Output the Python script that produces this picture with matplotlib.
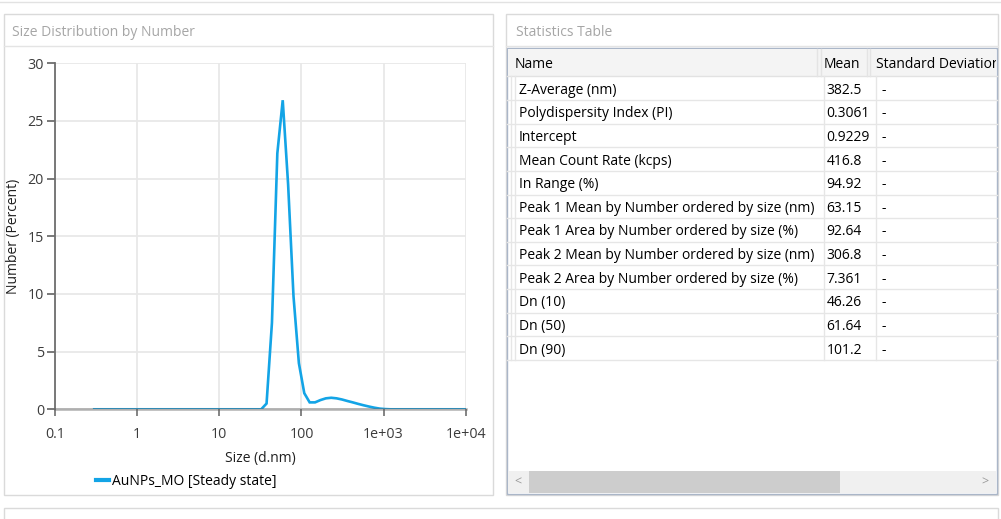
### Size distribution by number + statistics table (DLS report page)
import matplotlib
matplotlib.use('Agg')
import matplotlib.pyplot as plt
from matplotlib.patches import Rectangle
from matplotlib.lines import Line2D
from matplotlib.transforms import Bbox, TransformedBbox
import numpy as np

plt.rcParams['font.family'] = ['Open Sans', 'DejaVu Sans']

# size classes (d.nm)
sizes = [
    0.300, 0.349, 0.406, 0.472, 0.549, 0.638, 0.742, 0.863, 1.004, 1.168,
    1.358, 1.579, 1.837, 2.136, 2.484, 2.889, 3.360, 3.908, 4.545, 5.286,
    6.147, 7.149, 8.315, 9.670, 11.25, 13.08, 15.21, 17.69, 20.57, 23.93,
    27.83, 32.36, 37.64, 43.77, 50.91, 59.21, 68.86, 80.08, 93.13, 108.3,
    126.0, 146.5, 170.4, 198.2, 230.5, 268.1, 311.8, 362.6, 421.7, 490.4,
    570.4, 663.3, 771.5, 897.2, 1043, 1214, 1411, 1641, 1909, 2220,
    2582, 3003, 3492, 4061, 4723, 5493, 6389, 7430, 8641, 10000]

# number distribution (percent)
number_pct = [
    0, 0, 0, 0, 0, 0, 0, 0, 0, 0,
    0, 0, 0, 0, 0, 0, 0, 0, 0, 0,
    0, 0, 0, 0, 0, 0, 0, 0, 0, 0,
    0, 0, 0.5, 7.5, 22.2, 26.8, 19.5, 9.8, 4.0, 1.4,
    0.6, 0.6, 0.8, 0.95, 1.0, 0.95, 0.85, 0.72, 0.6, 0.47,
    0.35, 0.24, 0.14, 0.06, 0.02, 0, 0, 0, 0, 0,
    0, 0, 0, 0, 0, 0, 0, 0, 0, 0]

series_name = 'AuNPs_MO [Steady state]'

stat_names = [
    'Z-Average (nm)',
    'Polydispersity Index (PI)',
    'Intercept',
    'Mean Count Rate (kcps)',
    'In Range (%)',
    'Peak 1 Mean by Number ordered by size (nm)',
    'Peak 1 Area by Number ordered by size (%)',
    'Peak 2 Mean by Number ordered by size (nm)',
    'Peak 2 Area by Number ordered by size (%)',
    'Dn (10)',
    'Dn (50)',
    'Dn (90)',
]
stat_means = ['382.5', '0.3061', '0.9229', '416.8', '94.92', '63.15',
              '92.64', '306.8', '7.361', '46.26', '61.64', '101.2']
stat_sd = ['-'] * len(stat_names)

FS = 10
W, H = 1001, 519
fig = plt.figure(figsize=(W / 100, H / 100), dpi=100)


def fx(px):
    return px / W


def fy(py):
    return 1 - py / H


def box(x0, y0, x1, y1, ec, fc='none', lw=1.0, z=0):
    fig.add_artist(Rectangle((fx(x0), fy(y1)), (x1 - x0) / W, (y1 - y0) / H,
                             transform=fig.transFigure, ec=ec, fc=fc, lw=lw, zorder=z))


def hline(y, x0, x1, c, lw=1.0, z=1):
    fig.add_artist(Line2D([fx(x0), fx(x1)], [fy(y), fy(y)], transform=fig.transFigure,
                          color=c, lw=lw, zorder=z))


def vline(x, y0, y1, c, lw=1.0, z=1):
    fig.add_artist(Line2D([fx(x), fx(x)], [fy(y0), fy(y1)], transform=fig.transFigure,
                          color=c, lw=lw, zorder=z))


# panel frames
hline(1.5, 0, W, '#e2e2e2')
box(4, 13.5, 492.5, 495, '#dadada')
hline(45.7, 4, 492.5, '#e4e4e4')
box(505.5, 13.5, 997.5, 495, '#dadada')
hline(45.7, 505.5, 997.5, '#e4e4e4')
box(4, 507.5, 997.5, 540, '#dadada')

fig.text(fx(12), fy(33), 'Size Distribution by Number', color='#a6a6a6',
         fontsize=FS, va='center', ha='left')
fig.text(fx(516), fy(33), 'Statistics Table', color='#a6a6a6',
         fontsize=FS, va='center', ha='left')

# ---- distribution plot ----
ax = fig.add_axes([fx(55), fy(409.3), fx(465.7) - fx(55), fy(63.3) - fy(409.3)])
ax.plot(sizes, number_pct, color='#13a4e6', lw=1.9, solid_joinstyle='miter',
        label=series_name, zorder=2)
ax.set_xscale('log')
ax.set_xlim(0.1, 1e4)
ax.set_ylim(0, 30)
ax.set_xticks([0.1, 1, 10, 100, 1000, 10000])
ax.set_xticklabels(['0.1', '1', '10', '100', '1e+03', '1e+04'])
ax.xaxis.set_minor_locator(matplotlib.ticker.NullLocator())
ax.set_yticks(range(0, 31, 5))
ax.grid(True, color='#e8e8e8', lw=1.3)
ax.set_axisbelow(True)
for s in ('top', 'right'):
    ax.spines[s].set_visible(False)
ax.spines['left'].set_color('#6e6e6e')
ax.spines['left'].set_linewidth(1.3)
ax.spines['bottom'].set_color((0.38, 0.38, 0.38, 0.5))
ax.spines['bottom'].set_linewidth(1.8)
ax.tick_params(axis='y', length=6, width=1.3, color='#6e6e6e', labelcolor='#3c3c3c',
               labelsize=10.3, pad=2)
ax.tick_params(axis='x', length=5, width=1.3, color='#7a7a7a', labelcolor='#3c3c3c',
               labelsize=10.3, pad=8)
ax.set_xlabel('Size (d.nm)', fontsize=FS, color='#202020', labelpad=6)
ax.set_ylabel('Number (Percent)', fontsize=FS, color='#202020', labelpad=5)
leg = ax.legend(loc='upper left', bbox_to_anchor=(fx(96), fy(474)),
                bbox_transform=fig.transFigure, frameon=False, fontsize=FS,
                handlelength=0.9, handletextpad=0.25, borderpad=0, borderaxespad=0)
leg.get_lines()[0].set_linewidth(3)

# ---- statistics table ----
tx0, tx1, ty0, ty1 = 507.3, 996.7, 48.3, 494
table_clip = TransformedBbox(Bbox([[fx(tx0), fy(ty1)], [fx(tx1 - 1), fy(ty0)]]),
                             fig.transFigure)
box(tx0, ty0, tx1, ty1, '#aab6c8', fc='white', z=1)
box(tx0 + 0.5, ty0 + 0.5, tx1 - 0.5, 76.3, 'none', fc='#f4f4f4', z=1)
hline(76.3, tx0, tx1, '#e2e2e2', z=2)
for x in (816.7, 821.3, 866.7, 870):
    vline(x, ty0 + 0.5, 76.3, '#e4e4e4', z=2)
fig.text(fx(515), fy(65), 'Name', fontsize=FS, va='center', ha='left', zorder=3)
fig.text(fx(824), fy(65), 'Mean', fontsize=FS, va='center', ha='left', zorder=3)
sd_head = fig.text(fx(876), fy(65), 'Standard Deviation', fontsize=FS, va='center',
                   ha='left', zorder=3)
sd_head.set_clip_box(table_clip)
sd_head.set_clip_on(True)

row_h = (360 - 76.3) / len(stat_names)
for i, (name, mean, sd) in enumerate(zip(stat_names, stat_means, stat_sd)):
    yc = 76.3 + (i + 0.5) * row_h + 2
    hline(76.3 + (i + 1) * row_h, tx0, tx1, '#e6e6e6', z=2)
    fig.text(fx(519), fy(yc), name, fontsize=FS, va='center', ha='left', zorder=3)
    fig.text(fx(826.7), fy(yc), mean, fontsize=FS, va='center', ha='left', zorder=3)
    fig.text(fx(881.5), fy(yc), sd, fontsize=FS, va='center', ha='left', zorder=3)
for x in (510.5, 515, 824.3, 876):
    vline(x, 76.3, 360, '#e6e6e6', z=2)

# horizontal scroll bar
box(tx0 + 0.5, 471, tx1 - 0.5, 493, 'none', fc='#f0f0f0', z=2)
box(529, 471, 839.5, 493, 'none', fc='#cdcdcd', z=3)
fig.text(fx(518), fy(482), '<', color='#9a9a9a', fontsize=9, va='center', ha='center', zorder=4)
fig.text(fx(985), fy(482), '>', color='#9a9a9a', fontsize=9, va='center', ha='center', zorder=4)

fig.savefig('out.png', dpi=100)
